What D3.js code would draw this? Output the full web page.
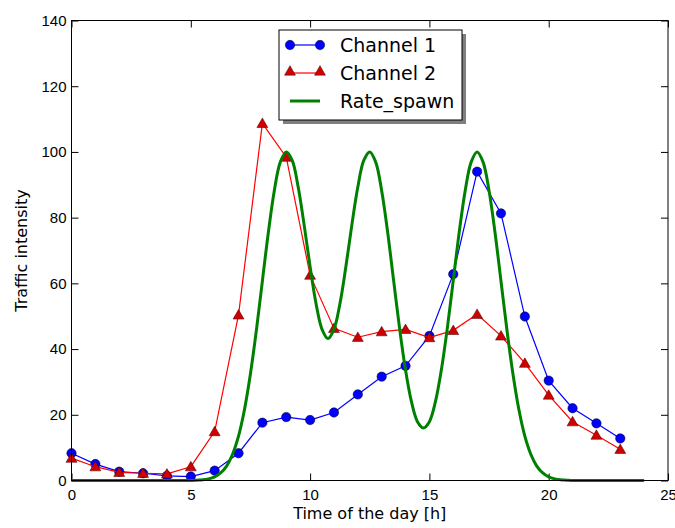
<!DOCTYPE html>
<html>
<head>
<meta charset="utf-8">
<script src="https://cdn.jsdelivr.net/npm/d3@7"></script>
<style>
  body { margin: 0; background: #fff; }
  svg { display: block; font-family: "DejaVu Sans", sans-serif; }
</style>
</head>
<body>
<div id="chart"></div>
<script>
// hours of the day
var hours = [0, 1, 2, 3, 4, 5, 6, 7, 8, 9, 10, 11, 12, 13, 14, 15, 16, 17, 18, 19, 20, 21, 22, 23];

var channel1 = [8.3, 5.0, 2.7, 2.2, 1.4, 1.2, 3.0, 8.3, 17.6, 19.3, 18.4, 20.7,
                26.2, 31.6, 34.9, 44.0, 62.8, 94.0, 81.3, 49.9, 30.4, 22.0, 17.4, 12.8];

var channel2 = [6.8, 4.2, 2.5, 2.2, 2.0, 4.2, 14.9, 50.4, 108.7, 98.4, 62.5, 46.3,
                43.6, 45.3, 46.0, 43.5, 45.7, 50.6, 44.0, 35.7, 26.0, 17.9, 13.8, 9.5];

// rate_spawn curve, read every quarter hour from 0 to 24
var spawnT = d3.range(0, 24.001, 0.25);
var spawnRate = [
  0, 0, 0, 0, 0, 0, 0, 0, 0, 0, 0, 0, 0, 0, 0, 0,   // 0 - 3.75
  0, 0, 0, 0, 0, 0.1, 0.2, 0.5,                     // 4 - 5.75
  1.1, 2.3, 4.4, 8.0, 13.5, 21.6, 32.5, 45.8,       // 6 - 7.75
  60.7, 75.5, 88.2, 96.9, 100, 97.4, 89.3, 77.8,    // 8 - 9.75
  65.1, 53.8, 46.0, 43.2, 46.0, 53.8, 65.1, 77.8,   // 10 - 11.75
  89.3, 97.4, 100, 96.9, 88.2, 75.6, 60.9, 46.3,    // 12 - 13.75
  33.6, 23.9, 17.9, 16.0, 17.9, 23.9, 33.6, 46.3,   // 14 - 15.75
  60.9, 75.6, 88.2, 96.9, 100, 96.9, 88.2, 75.5,    // 16 - 17.75
  60.7, 45.8, 32.5, 21.6, 13.5, 8.0, 4.4, 2.3,      // 18 - 19.75
  1.1, 0.5, 0.2, 0.1, 0, 0, 0, 0,                   // 20 - 21.75
  0, 0, 0, 0, 0, 0, 0, 0, 0                         // 22 - 24
];

var xTicks = [0, 5, 10, 15, 20, 25];
var yTicks = [0, 20, 40, 60, 80, 100, 120, 140];

var legendNames = ["Channel 1", "Channel 2", "Rate_spawn"];

var width = 675, height = 528;
// plot box edges ("top" is taken by window.top, so prefix them)
var pLeft = 71.5, pRight = 668, pTop = 20.5, pBottom = 480.5;

var svg = d3.select("#chart").append("svg")
    .attr("width", width)
    .attr("height", height);

var x = d3.scaleLinear().domain([0, 25]).range([pLeft, pRight]);
var y = d3.scaleLinear().domain([0, 140]).range([pBottom, pTop]);

// axes with ticks pointing inwards, like the classic matplotlib look
function styleAxis(g) {
  g.select(".domain").remove();
  g.selectAll("line").attr("stroke", "#000").attr("stroke-width", 1);
  g.selectAll("text").attr("fill", "#000").style("font-size", "15px");
}

svg.append("g")
    .attr("transform", "translate(0," + pBottom + ")")
    .call(d3.axisBottom(x).tickValues(xTicks).tickSize(-7).tickPadding(9).tickFormat(d3.format("d")))
    .call(styleAxis);

svg.append("g")
    .attr("transform", "translate(0," + pTop + ")")
    .call(d3.axisTop(x).tickValues(xTicks).tickSize(-7).tickFormat(""))
    .call(styleAxis);

svg.append("g")
    .attr("transform", "translate(" + pLeft + ",0)")
    .call(d3.axisLeft(y).tickValues(yTicks).tickSize(-7).tickPadding(5).tickFormat(d3.format("d")))
    .call(styleAxis);

svg.append("g")
    .attr("transform", "translate(" + pRight + ",0)")
    .call(d3.axisRight(y).tickValues(yTicks).tickSize(-7).tickFormat(""))
    .call(styleAxis);

var plot = svg.append("g");

var line = d3.line()
    .x(function(d) { return x(d[0]); })
    .y(function(d) { return y(d[1]); });

var smooth = d3.line()
    .curve(d3.curveCatmullRom)
    .x(function(d) { return x(d[0]); })
    .y(function(d) { return y(d[1]); });

var ch1 = d3.zip(hours, channel1);
var ch2 = d3.zip(hours, channel2);
var spawn = d3.zip(spawnT, spawnRate);

var triangle = d3.symbol().type(d3.symbolTriangle).size(52);

// channel 1
plot.append("path")
    .attr("d", line(ch1))
    .attr("fill", "none")
    .attr("stroke", "#0000ff")
    .attr("stroke-width", 1.2);

plot.selectAll(".c1")
  .data(ch1)
  .enter().append("circle")
    .attr("class", "c1")
    .attr("cx", function(d) { return x(d[0]); })
    .attr("cy", function(d) { return y(d[1]); })
    .attr("r", 4.7)
    .attr("fill", "#0000ff")
    .attr("stroke", "#000")
    .attr("stroke-width", 0.5);

// channel 2
plot.append("path")
    .attr("d", line(ch2))
    .attr("fill", "none")
    .attr("stroke", "#ff0000")
    .attr("stroke-width", 1.2);

plot.selectAll(".c2")
  .data(ch2)
  .enter().append("path")
    .attr("class", "c2")
    .attr("d", triangle)
    .attr("transform", function(d) { return "translate(" + x(d[0]) + "," + (y(d[1]) + 1) + ")"; })
    .attr("fill", "#d00000")
    .attr("stroke", "#400000")
    .attr("stroke-width", 0.5);

// rate_spawn
plot.append("path")
    .attr("d", smooth(spawn))
    .attr("fill", "none")
    .attr("stroke", "#008000")
    .attr("stroke-width", 3);

// frame
svg.append("rect")
    .attr("x", pLeft)
    .attr("y", pTop)
    .attr("width", pRight - pLeft)
    .attr("height", pBottom - pTop)
    .attr("fill", "none")
    .attr("stroke", "#000")
    .attr("stroke-width", 1);

// axis labels
svg.append("text")
    .attr("x", (pLeft + pRight) / 2)
    .attr("y", 519)
    .attr("text-anchor", "middle")
    .style("font-size", "16px")
    .text("Time of the day [h]");

svg.append("text")
    .attr("transform", "translate(27," + ((pTop + pBottom) / 2) + ") rotate(-90)")
    .attr("text-anchor", "middle")
    .style("font-size", "16px")
    .text("Traffic intensity");

// legend
var lx = 279, ly = 30, lw = 183, lh = 90;
var legend = svg.append("g");

legend.append("rect")
    .attr("x", lx + 4)
    .attr("y", ly + 4)
    .attr("width", lw)
    .attr("height", lh)
    .attr("fill", "#7f7f7f");

legend.append("rect")
    .attr("x", lx)
    .attr("y", ly)
    .attr("width", lw)
    .attr("height", lh)
    .attr("fill", "#fff")
    .attr("stroke", "#000")
    .attr("stroke-width", 1);

var rowY = [45, 73, 101];
var lineColors = ["#0000ff", "#ff0000", "#008000"];
var lineWidths = [1.2, 1.2, 3];

legendNames.forEach(function(name, i) {
  var ry = rowY[i];
  legend.append("line")
      .attr("x1", 290).attr("x2", 320)
      .attr("y1", ry).attr("y2", ry)
      .attr("stroke", lineColors[i])
      .attr("stroke-width", lineWidths[i]);
  if (i == 0) {
    [290, 320].forEach(function(px) {
      legend.append("circle")
          .attr("cx", px).attr("cy", ry).attr("r", 4.7)
          .attr("fill", "#0000ff").attr("stroke", "#000").attr("stroke-width", 0.5);
    });
  } else if (i == 1) {
    [290, 320].forEach(function(px) {
      legend.append("path")
          .attr("d", triangle)
          .attr("transform", "translate(" + px + "," + (ry - 1) + ")")
          .attr("fill", "#d00000").attr("stroke", "#400000").attr("stroke-width", 0.5);
    });
  }
  legend.append("text")
      .attr("x", 340)
      .attr("y", ry)
      .attr("dy", "0.35em")
      .style("font-size", "19px")
      .text(name);
});
</script>
</body>
</html>
